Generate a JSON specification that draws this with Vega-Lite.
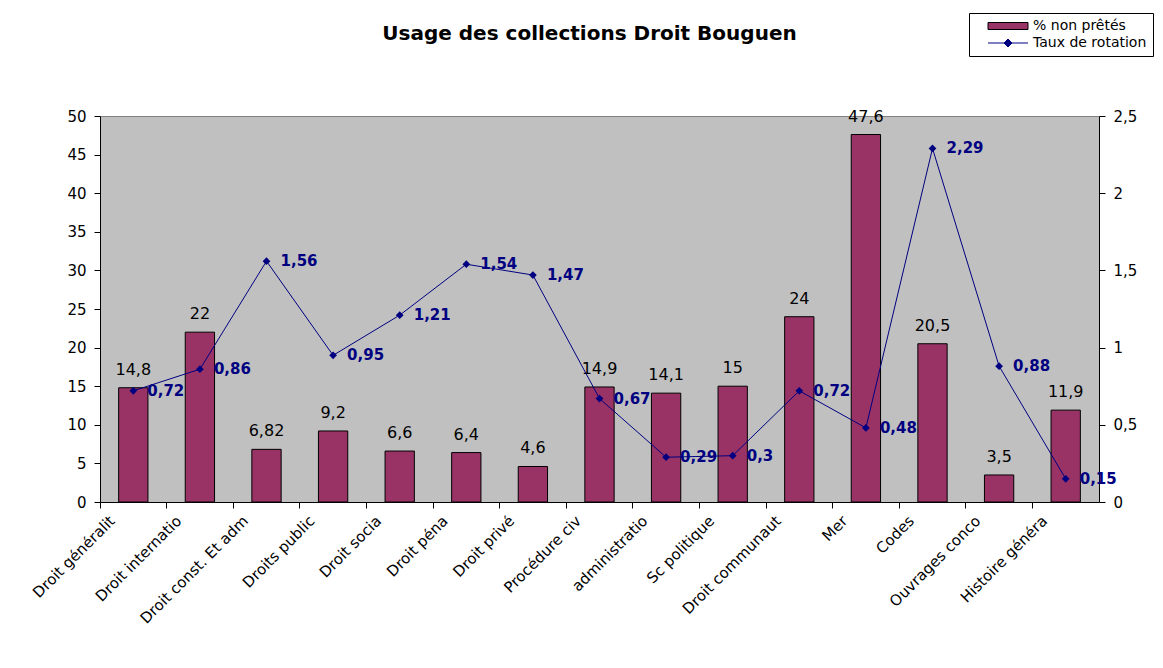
{
  "$schema": "https://vega.github.io/schema/vega-lite/v6.json",
  "autosize": "none",
  "width": 999,
  "height": 386,
  "padding": {"left": 100, "top": 116, "right": 64, "bottom": 166},
  "background": "white",
  "title": {
    "text": "Usage des collections Droit Bouguen",
    "font": "DejaVu Sans",
    "fontSize": 20,
    "fontWeight": "bold",
    "color": "black",
    "anchor": "middle",
    "frame": "group",
    "dx": -10,
    "offset": 0,
    "dy": 31
  },
  "data": {
    "values": [
      {"cat": "Droit généralit", "pct": 14.8, "taux": 0.72},
      {"cat": "Droit internatio", "pct": 22, "taux": 0.86},
      {"cat": "Droit const. Et adm", "pct": 6.82, "taux": 1.56},
      {"cat": "Droits public", "pct": 9.2, "taux": 0.95},
      {"cat": "Droit socia", "pct": 6.6, "taux": 1.21},
      {"cat": "Droit péna", "pct": 6.4, "taux": 1.54},
      {"cat": "Droit privé", "pct": 4.6, "taux": 1.47},
      {"cat": "Procédure civ", "pct": 14.9, "taux": 0.67},
      {"cat": "administratio", "pct": 14.1, "taux": 0.29},
      {"cat": "Sc politique", "pct": 15, "taux": 0.3},
      {"cat": "Droit communaut", "pct": 24, "taux": 0.72},
      {"cat": "Mer", "pct": 47.6, "taux": 0.48},
      {"cat": "Codes", "pct": 20.5, "taux": 2.29},
      {"cat": "Ouvrages conco", "pct": 3.5, "taux": 0.88},
      {"cat": "Histoire généra", "pct": 11.9, "taux": 0.15}
    ]
  },
  "encoding": {
    "x": {
      "field": "cat",
      "type": "nominal",
      "sort": null,
      "scale": {"paddingInner": 0, "paddingOuter": 0},
      "axis": {
        "title": null,
        "bandPosition": 0,
        "labelAngle": -45,
        "labelAlign": "right",
        "labelBaseline": "top",
        "labelFont": "DejaVu Sans",
        "labelFontSize": 15,
        "labelColor": "black",
        "labelPadding": 5,
        "labelOffset": -26,
        "labelLimit": 300,
        "domainColor": "black",
        "tickColor": "black",
        "tickSize": 6
      }
    }
  },
  "layer": [
    {
      "mark": {"type": "bar", "width": {"band": 0.44}, "stroke": "black", "strokeWidth": 1},
      "encoding": {
        "y": {
          "field": "pct",
          "type": "quantitative",
          "scale": {"domain": [0, 50]},
          "axis": {
            "title": null,
            "values": [0, 5, 10, 15, 20, 25, 30, 35, 40, 45, 50],
            "grid": false,
            "labelFont": "DejaVu Sans",
            "labelFontSize": 15,
            "labelColor": "black",
            "labelPadding": 8,
            "domainColor": "black",
            "tickColor": "black",
            "tickSize": 6
          }
        },
        "fill": {
          "datum": "% non prêtés",
          "scale": {"domain": ["% non prêtés", "Taux de rotation"], "range": ["#993366", "#000080"]},
          "legend": {
            "title": null,
            "orient": "none",
            "legendX": 869,
            "legendY": -103,
            "direction": "vertical",
            "fillColor": "white",
            "strokeColor": "black",
            "padding": 6,
            "rowPadding": 3,
            "symbolType": {"expr": "datum.value === 'Taux de rotation' ? 'M-4,0H4M0,-0.8L0.8,0L0,0.8L-0.8,0Z' : 'M-4,-0.7H4V0.7H-4Z'"},
            "symbolSize": 100,
            "symbolStrokeColor": {"expr": "datum.value === 'Taux de rotation' ? '#000080' : 'black'"},
            "symbolStrokeWidth": 1,
            "symbolOffset": 26,
            "labelOffset": 18,
            "labelFont": "DejaVu Sans",
            "labelFontSize": 14,
            "labelColor": "black",
            "labelLimit": 400
          }
        }
      }
    },
    {
      "mark": {"type": "text", "font": "DejaVu Sans", "fontSize": 16, "color": "black", "baseline": "alphabetic", "dy": -13},
      "encoding": {
        "y": {"field": "pct", "type": "quantitative", "scale": {"domain": [0, 50]}, "axis": null},
        "text": {"field": "pct", "type": "quantitative", "format": "~g"}
      }
    },
    {
      "mark": {
        "type": "line",
        "color": "#000080",
        "strokeWidth": 1,
        "point": {"shape": "diamond", "filled": true, "size": 60, "color": "#000080"}
      },
      "encoding": {
        "y": {
          "field": "taux",
          "type": "quantitative",
          "scale": {"domain": [0, 2.5]},
          "axis": {
            "orient": "right",
            "title": null,
            "values": [0, 0.5, 1, 1.5, 2, 2.5],
            "format": "~g",
            "grid": false,
            "labelFont": "DejaVu Sans",
            "labelFontSize": 15,
            "labelColor": "black",
            "labelPadding": 8,
            "domainColor": "black",
            "tickColor": "black",
            "tickSize": 6
          }
        }
      }
    },
    {
      "mark": {"type": "text", "font": "DejaVu Sans", "fontSize": 15, "fontWeight": "bold", "color": "#000080", "align": "left", "baseline": "middle", "dx": 14},
      "encoding": {
        "y": {"field": "taux", "type": "quantitative", "scale": {"domain": [0, 2.5]}, "axis": null},
        "text": {"field": "taux", "type": "quantitative", "format": "~g"}
      }
    }
  ],
  "resolve": {"scale": {"y": "independent"}},
  "config": {
    "locale": {"number": {"decimal": ",", "thousands": " ", "grouping": [3], "currency": ["", " €"]}},
    "view": {"fill": "#C0C0C0", "stroke": "#808080", "strokeWidth": 1},
    "axis": {"domainWidth": 1, "tickWidth": 1}
  }
}
